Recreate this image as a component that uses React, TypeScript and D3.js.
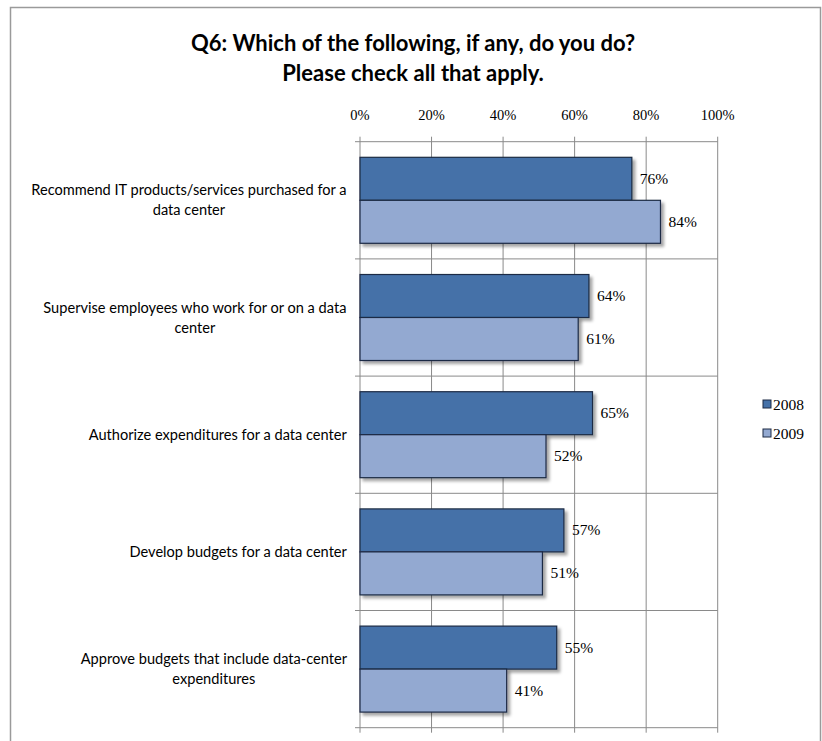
import React from "react";
import * as d3 from "d3";

const categories: string[][] = [
  ["Recommend IT products/services purchased for a", "data center"],
  ["Supervise employees who work for or on a data", "center"],
  ["Authorize expenditures for a data center"],
  ["Develop budgets for a data center"],
  ["Approve budgets that include data-center", "expenditures"],
];
const seriesNames = ["2008", "2009"];
const values2008 = [76, 64, 65, 57, 55];
const values2009 = [84, 61, 52, 51, 41];
const xTicks = [0, 20, 40, 60, 80, 100];
const titleLines = ["Q6: Which of the following, if any, do you do?", "Please check all that apply."];

const colors = ["#4571a8", "#93a9d1"];
const W = 822;
const H = 741;
const catFamily = "Lato, 'Open Sans', sans-serif";
const catSize = 14.6;
const catFont = `${catSize}px Lato, 'Open Sans', sans-serif`;
const serif = "'Liberation Serif', 'DejaVu Serif', serif";

function measure(text: string, font: string): number {
  const c = document.createElement("canvas");
  const ctx = c.getContext("2d");
  if (!ctx) return text.length * 7;
  ctx.font = font;
  return ctx.measureText(text).width;
}

export default function App() {
  const x = d3.scaleLinear().domain([0, 100]).range([360, 717.7]);
  const keys = categories.map((c) => c.join(" "));
  const y = d3.scaleBand<string>().domain(keys).range([141.7, 727.7]).paddingInner(0).paddingOuter(0);
  const ys = d3.scaleBand<string>().domain(seriesNames).range([0, y.bandwidth()]).paddingInner(0).paddingOuter(0.363);
  const series = [values2008, values2009];
  const top = 141.7;
  const bottom = 727.7;
  const labelRight = 347;

  return (
    <div style={{ position: "absolute", left: 0, top: 0 }}>
      <svg width={W} height={H} style={{ display: "block", background: "#fff" }}>
        <defs>
          <filter id="shadow" x="-10%" y="-20%" width="130%" height="160%">
            <feDropShadow dx="3" dy="3" stdDeviation="1.8" floodColor="#000" floodOpacity="0.35" />
          </filter>
        </defs>
        <rect x={10.5} y={7.5} width={810} height={H + 10} fill="#fff" stroke="#9a9a9a" strokeWidth={1.5} />
        {titleLines.map((t, i) => (
          <text key={i} x={413} y={51 + i * 30} textAnchor="middle" fontFamily={catFamily} fontWeight="bold" fontSize={22} fill="#000">
            {t}
          </text>
        ))}
        {xTicks.map((t) => (
          <line key={"v" + t} x1={x(t)} x2={x(t)} y1={top - 5} y2={bottom + 5} stroke="#8a8a8a" strokeWidth={1} />
        ))}
        {[...keys.map((k) => y(k) as number), bottom].map((yy, i) => (
          <line key={"h" + i} x1={355} x2={x(100)} y1={yy} y2={yy} stroke="#8a8a8a" strokeWidth={1} />
        ))}
        {xTicks.map((t) => (
          <text key={"t" + t} x={x(t)} y={120} textAnchor="middle" fontFamily={serif} fontSize={14.5} fill="#000">
            {t}%
          </text>
        ))}
        {series.map((vals, si) =>
          vals.map((v, ci) => {
            const by = (y(keys[ci]) as number) + (ys(seriesNames[si]) as number);
            return (
              <g key={`b${si}-${ci}`}>
                <rect x={x(0)} y={by} width={x(v) - x(0)} height={ys.bandwidth()} fill={colors[si]} stroke="#1c2a44" strokeWidth={1.2} filter="url(#shadow)" />
                <text x={x(v) + 8} y={by + ys.bandwidth() / 2 + 5} fontFamily={serif} fontSize={15.5} fill="#000">
                  {v}%
                </text>
              </g>
            );
          })
        )}
        {categories.map((lines, ci) => {
          const maxW = Math.max(...lines.map((l) => measure(l, catFont)));
          const cx = labelRight - maxW / 2;
          const cy = (y(keys[ci]) as number) + y.bandwidth() / 2;
          const lh = 20;
          const start = cy - ((lines.length - 1) * lh) / 2;
          return lines.map((l, li) => (
            <text key={`c${ci}-${li}`} x={cx} y={start + li * lh + 5} textAnchor="middle" fontFamily={catFamily} fontSize={catSize} fill="#000">
              {l}
            </text>
          ));
        })}
        {seriesNames.map((s, i) => (
          <g key={"l" + s}>
            <rect x={763} y={400 + i * 29} width={8} height={8} fill={colors[i]} stroke="#1c2a44" strokeWidth={1} />
            <text x={773} y={410 + i * 29} fontFamily={serif} fontSize={15.5} fill="#000">
              {s}
            </text>
          </g>
        ))}
      </svg>
    </div>
  );
}
